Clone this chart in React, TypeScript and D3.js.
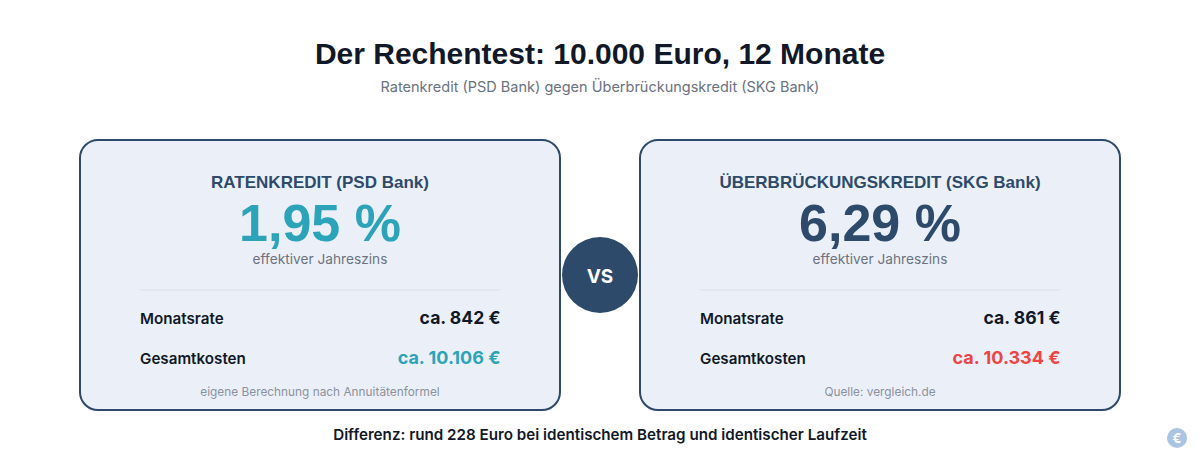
import React, { useEffect } from 'react';
import * as d3 from 'd3';

const products = ['RATENKREDIT (PSD Bank)', 'ÜBERBRÜCKUNGSKREDIT (SKG Bank)'];
const rates = ['1,95 %', '6,29 %'];
const monthly = ['ca. 842 €', 'ca. 861 €'];
const totals = ['ca. 10.106 €', 'ca. 10.334 €'];
const notes = ['eigene Berechnung nach Annuitätenformel', 'Quelle: vergleich.de'];
const rateColors = ['#2ca3b8', '#2d4a6b'];
const totalColors = ['#2ca3b8', '#ef4444'];

const WIDTH = 1200;
const HEIGHT = 460;
const ARIAL = '"Liberation Sans", Arial, sans-serif';
const INTER = 'Inter, sans-serif';
const navy = '#2d4a6b';
const ink = '#111827';

const App: React.FC = () => {
  useEffect(() => {
    document.body.style.margin = '0';
  }, []);

  // two cards with the vs badge in the gap
  const x = d3.scaleBand<number>().domain([0, 1]).range([80, 1120]).paddingInner(80 / 560);
  const cardW = x.bandwidth();

  return (
    <svg width={WIDTH} height={HEIGHT} viewBox={`0 0 ${WIDTH} ${HEIGHT}`} style={{ display: 'block' }}>
      <rect width={WIDTH} height={HEIGHT} fill="#ffffff" />
      <text x={600} y={64} textAnchor="middle" fontFamily={ARIAL} fontWeight={700} fontSize={30} fill={ink}>
        Der Rechentest: 10.000 Euro, 12 Monate
      </text>
      <text x={600} y={92} textAnchor="middle" fontFamily={INTER} fontSize={14.5} fill="#6b7280">
        Ratenkredit (PSD Bank) gegen Überbrückungskredit (SKG Bank)
      </text>

      {products.map((name, i) => {
        const left = x(i) as number;
        const cx = left + cardW / 2;
        return (
          <g key={name}>
            <rect x={left} y={140} width={cardW} height={270} rx={18} fill="#ebf0f8" stroke={navy} strokeWidth={2} />
            <text x={cx} y={188} textAnchor="middle" fontFamily={ARIAL} fontWeight={700} fontSize={17} fill={navy}>
              {name}
            </text>
            <text x={cx} y={241} textAnchor="middle" fontFamily={ARIAL} fontWeight={700} fontSize={52} fill={rateColors[i]}>
              {rates[i]}
            </text>
            <text x={cx} y={264} textAnchor="middle" fontFamily={INTER} fontSize={13.7} fill="#6b7280">
              effektiver Jahreszins
            </text>
            <line x1={left + 60} x2={left + cardW - 60} y1={290} y2={290} stroke="#e2e8f0" strokeWidth={2} />
            <text x={left + 60} y={324} fontFamily={INTER} fontWeight={600} fontSize={15.2} fill={ink}>
              Monatsrate
            </text>
            <text x={left + cardW - 59.5} y={323.5} textAnchor="end" fontFamily={INTER} fontWeight={700} fontSize={17.6} fill={ink}>
              {monthly[i]}
            </text>
            <text x={left + 60} y={364} fontFamily={INTER} fontWeight={600} fontSize={15.2} fill={ink}>
              Gesamtkosten
            </text>
            <text x={left + cardW - 59.5} y={364} textAnchor="end" fontFamily={INTER} fontWeight={700} fontSize={18} fill={totalColors[i]}>
              {totals[i]}
            </text>
            <text x={cx} y={396} textAnchor="middle" fontFamily={INTER} fontSize={11.85} fill="#8b919c">
              {notes[i]}
            </text>
          </g>
        );
      })}

      <circle cx={600} cy={275} r={38} fill={navy} />
      <text x={600} y={282.5} textAnchor="middle" fontFamily={INTER} fontWeight={700} fontSize={19} fill="#ffffff">
        VS
      </text>

      <text x={600} y={440} textAnchor="middle" fontFamily={INTER} fontWeight={600} fontSize={15.2} fill={ink}>
        Differenz: rund 228 Euro bei identischem Betrag und identischer Laufzeit
      </text>

      <g opacity={0.4}>
        <circle cx={1177} cy={438} r={10} fill="#2f6db5" />
        <text x={1177} y={442.5} textAnchor="middle" fontFamily={INTER} fontWeight={700} fontSize={13} fill="#ffffff">
          €
        </text>
      </g>
    </svg>
  );
};

export default App;
